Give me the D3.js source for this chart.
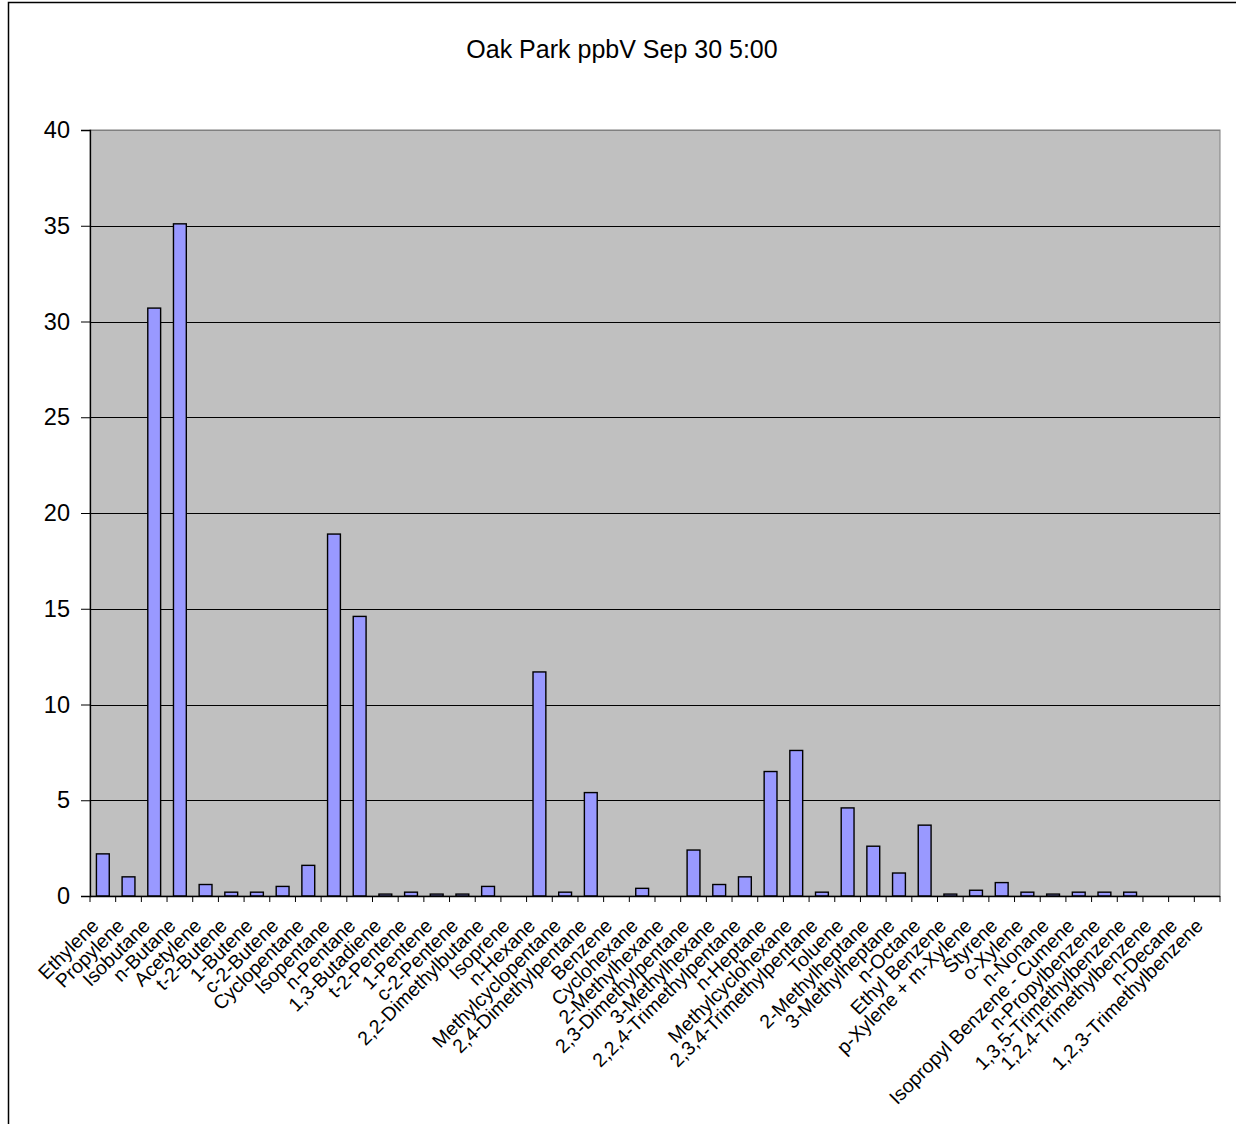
<!DOCTYPE html>
<html>
<head>
<meta charset="utf-8">
<script src="https://d3js.org/d3.v7.min.js"></script>
<style>
  html, body { margin: 0; padding: 0; background: #fff; }
  svg { display: block; font-family: "Liberation Sans", Arial, sans-serif; }
</style>
</head>
<body>
<svg id="chart" width="1236" height="1124"></svg>
<script>
const title = "Oak Park ppbV Sep 30 5:00";

const categories = [
  "Ethylene", "Propylene", "Isobutane", "n-Butane", "Acetylene", "t-2-Butene",
  "1-Butene", "c-2-Butene", "Cyclopentane", "Isopentane", "n-Pentane",
  "1,3-Butadiene", "t-2-Pentene", "1-Pentene", "c-2-Pentene",
  "2,2-Dimethylbutane", "Isoprene", "n-Hexane", "Methylcyclopentane",
  "2,4-Dimethylpentane", "Benzene", "Cyclohexane", "2-Methylhexane",
  "2,3-Dimethylpentane", "3-Methylhexane", "2,2,4-Trimethylpentane",
  "n-Heptane", "Methylcyclohexane", "2,3,4-Trimethylpentane", "Toluene",
  "2-Methylheptane", "3-Methylheptane", "n-Octane", "Ethyl Benzene",
  "p-Xylene + m-Xylene", "Styrene", "o-Xylene", "n-Nonane",
  "Isopropyl Benzene - Cumene", "n-Propylbenzene", "1,3,5-Trimethylbenzene",
  "1,2,4-Trimethylbenzene", "n-Decane", "1,2,3-Trimethylbenzene"
];

const values = [
  2.2, 1.0, 30.7, 35.1, 0.6, 0.2,
  0.2, 0.5, 1.6, 18.9, 14.6,
  0.1, 0.2, 0.1, 0.1,
  0.5, 0, 11.7, 0.2,
  5.4, 0, 0.4, 0,
  2.4, 0.6, 1.0,
  6.5, 7.6, 0.2, 4.6,
  2.6, 1.2, 3.7, 0.1,
  0.3, 0.7, 0.2, 0.1,
  0.2, 0.2, 0.2,
  0, 0, 0
];

const yTicks = [0, 5, 10, 15, 20, 25, 30, 35, 40];

const data = categories.map((c, i) => ({ name: c, value: values[i] }));

const svg = d3.select("#chart");
const W = 1236, H = 1124;
const plot = { left: 90, right: 1220, top: 130, bottom: 896 };

svg.append("rect").attr("width", W).attr("height", H).attr("fill", "#fff");

// outer chart border (left & top visible)
svg.append("rect")
  .attr("x", 8.5).attr("y", 2.5)
  .attr("width", W + 10).attr("height", H + 10)
  .attr("fill", "none").attr("stroke", "#000").attr("stroke-width", 1.5);

const x = d3.scaleBand()
  .domain(categories)
  .range([plot.left, plot.right])
  .paddingInner(0.5)
  .paddingOuter(0.25);

const y = d3.scaleLinear()
  .domain([0, 40])
  .range([plot.bottom, plot.top]);

// plot background
svg.append("rect")
  .attr("x", plot.left).attr("y", plot.top)
  .attr("width", plot.right - plot.left).attr("height", plot.bottom - plot.top)
  .attr("fill", "#c0c0c0")
  .attr("stroke", "#808080").attr("stroke-width", 1);

// gridlines
svg.append("g").selectAll("line")
  .data(yTicks.filter(t => t > 0))
  .join("line")
  .attr("x1", plot.left).attr("x2", plot.right)
  .attr("y1", d => Math.round(y(d)) + 0.5).attr("y2", d => Math.round(y(d)) + 0.5)
  .attr("stroke", d => d === 40 ? "#808080" : "#000")
  .attr("stroke-width", 1);

// bars
svg.append("g").selectAll("rect")
  .data(data.filter(d => d.value > 0))
  .join("rect")
  .attr("x", d => x(d.name))
  .attr("y", d => y(d.value))
  .attr("width", x.bandwidth())
  .attr("height", d => y(0) - y(d.value))
  .attr("fill", "#9999ff")
  .attr("stroke", "#000")
  .attr("stroke-width", 1.4);

// y axis
const yAxis = d3.axisLeft(y).tickValues(yTicks).tickSize(9).tickPadding(11).tickFormat(d3.format("d"));
const gy = svg.append("g").attr("transform", `translate(${plot.left},0)`).call(yAxis);
gy.select(".domain").attr("stroke", "#000").attr("stroke-width", 1.3);
gy.selectAll(".tick line").attr("stroke", "#000");
gy.selectAll(".tick text")
  .attr("font-size", 23.5)
  .attr("font-family", "'Liberation Sans', Arial, sans-serif")
  .attr("fill", "#000");

// x axis line
svg.append("line")
  .attr("x1", plot.left).attr("x2", plot.right)
  .attr("y1", plot.bottom + 0.5).attr("y2", plot.bottom + 0.5)
  .attr("stroke", "#000").attr("stroke-width", 1.3);

// x ticks at category boundaries
const step = x.step();
const boundaries = categories.map(c => x(c) - step * x.paddingInner() / 2).concat([plot.right]);
svg.append("g").selectAll("line")
  .data(boundaries)
  .join("line")
  .attr("x1", d => d).attr("x2", d => d)
  .attr("y1", plot.bottom).attr("y2", plot.bottom + 6)
  .attr("stroke", "#000").attr("stroke-width", 1);

// category labels
svg.append("g").selectAll("text")
  .data(categories)
  .join("text")
  .attr("transform", d => `translate(${x(d) + x.bandwidth() / 2 - 3},${plot.bottom + 31}) rotate(-45)`)
  .attr("text-anchor", "end")
  .attr("font-size", 19.5)
  .attr("fill", "#000")
  .text(d => d);

// title
svg.append("text")
  .attr("x", 622).attr("y", 58)
  .attr("text-anchor", "middle")
  .attr("font-size", 25)
  .attr("fill", "#000")
  .text(title);
</script>
</body>
</html>
